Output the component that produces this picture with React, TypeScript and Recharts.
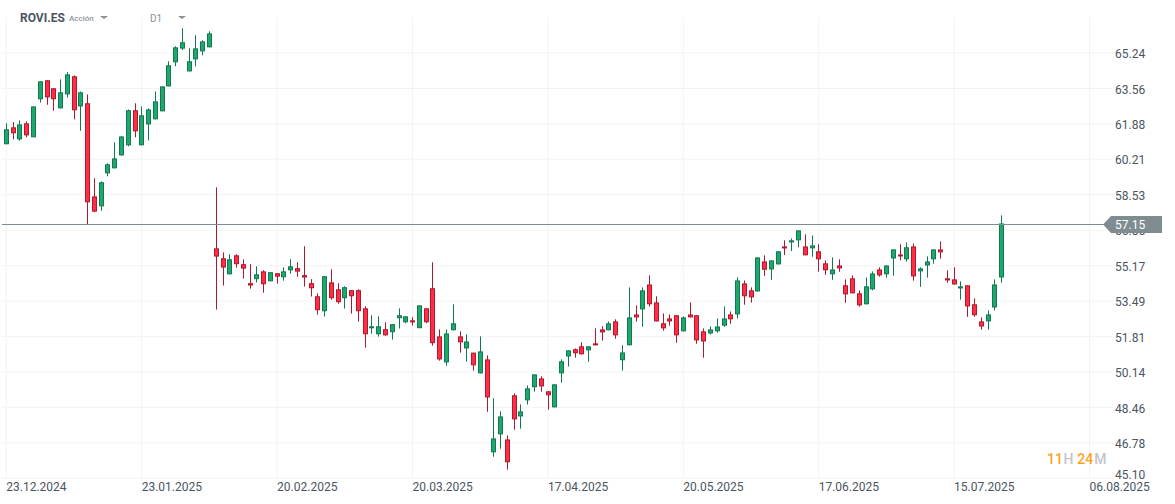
import { ComposedChart, Bar, XAxis, YAxis, CartesianGrid, ReferenceLine } from "recharts";

const opens = [
  60.92, 61.72, 61.15, 61.91, 61.25, 63.05, 63.95, 63.57, 62.62, 63.28, 64.14, 62.71, 62.86, 58.45, 57.98, 59.54, 59.78, 60.39, 60.87, 62.53,
  60.87, 61.86, 62.10, 62.48, 63.66, 64.80, 65.45, 64.37, 64.94, 65.32, 65.51, 55.99, 55.52, 54.76, 55.66, 55.24, 54.34, 54.53, 54.90, 54.43,
  54.81, 54.62, 54.95, 55.05, 54.72, 54.34, 53.72, 53.01, 54.38, 54.05, 53.63, 54.01, 54.01, 53.15, 52.21, 51.92, 52.16, 52.02, 52.68, 52.49,
  52.58, 52.21, 53.15, 54.10, 51.82, 50.59, 52.11, 51.82, 51.25, 51.05, 50.07, 50.73, 46.33, 47.18, 46.94, 49.03, 48.03, 48.79, 49.41, 49.83,
  49.22, 48.46, 50.07, 50.87, 51.21, 51.35, 51.16, 51.49, 52.15, 52.11, 52.53, 50.69, 51.40, 52.86, 53.10, 54.28, 53.43, 52.44, 52.67, 52.82,
  52.06, 52.86, 52.82, 52.06, 51.96, 52.06, 52.33, 52.86, 52.86, 54.33, 54.00, 53.95, 55.37, 54.99, 55.23, 56.08, 56.27, 56.37, 56.08, 55.99,
  55.85, 55.28, 54.76, 55.18, 54.24, 54.57, 53.86, 53.34, 54.05, 54.99, 54.76, 55.51, 55.70, 55.47, 56.08, 54.90, 55.18, 55.47, 55.94, 54.57,
  54.52, 54.09, 54.24, 53.34, 52.53, 52.53, 53.19, 54.61,
];
const highs = [
  61.91, 61.97, 62.05, 62.00, 62.71, 63.90, 63.95, 63.57, 63.99, 64.34, 64.18, 63.42, 63.28, 59.31, 59.16, 60.02, 61.01, 61.29, 62.57, 62.86,
  62.71, 62.62, 63.42, 63.66, 64.85, 65.56, 66.41, 65.46, 66.08, 65.84, 66.27, 58.88, 55.80, 55.71, 55.71, 55.47, 55.24, 55.14, 54.95, 54.86,
  54.81, 55.09, 55.47, 55.33, 56.09, 54.53, 53.86, 54.67, 55.00, 54.34, 54.19, 54.01, 54.05, 53.25, 52.82, 52.77, 52.49, 52.40, 53.15, 52.77,
  52.73, 53.29, 53.15, 55.33, 52.15, 52.15, 53.34, 52.06, 51.92, 51.05, 51.82, 50.92, 48.89, 48.27, 47.13, 49.12, 48.60, 49.50, 50.02, 49.93,
  49.22, 49.55, 50.73, 51.16, 51.25, 51.54, 51.35, 52.20, 52.30, 52.53, 52.63, 51.40, 54.14, 53.29, 54.14, 54.71, 53.72, 52.91, 52.86, 52.82,
  52.77, 53.43, 52.82, 52.20, 52.29, 52.67, 53.24, 53.00, 54.62, 54.47, 54.14, 55.56, 55.66, 55.42, 55.85, 56.37, 56.46, 56.84, 56.65, 56.60,
  56.18, 55.42, 55.56, 55.47, 54.52, 54.71, 54.00, 54.61, 54.90, 55.09, 55.18, 55.94, 56.18, 56.27, 56.22, 55.09, 55.61, 55.94, 56.32, 54.95,
  55.09, 54.43, 54.24, 53.62, 52.72, 53.05, 54.52, 57.55,
];
const lows = [
  60.92, 61.15, 61.09, 61.25, 61.25, 62.89, 62.79, 62.51, 62.62, 63.13, 62.10, 61.56, 57.14, 57.70, 57.77, 59.40, 59.78, 60.39, 60.82, 61.25,
  60.87, 61.10, 62.10, 62.48, 63.66, 64.61, 65.38, 64.37, 64.61, 65.13, 65.51, 53.09, 54.23, 54.76, 55.08, 54.56, 54.08, 54.37, 53.89, 54.43,
  54.32, 54.46, 54.79, 54.65, 54.18, 53.71, 52.85, 52.76, 53.56, 53.37, 53.14, 52.90, 52.52, 51.29, 51.95, 51.81, 51.85, 51.67, 52.19, 52.44,
  52.33, 52.21, 52.44, 51.38, 50.67, 50.43, 52.11, 51.05, 50.62, 50.20, 50.07, 48.25, 46.12, 46.50, 45.51, 47.40, 47.45, 48.59, 49.20, 49.20,
  48.35, 48.46, 49.63, 50.39, 50.81, 50.97, 50.62, 51.40, 51.62, 52.11, 51.71, 50.20, 51.40, 52.52, 52.28, 53.23, 52.53, 52.09, 52.33, 51.52,
  52.06, 52.72, 51.47, 50.81, 51.90, 51.99, 52.28, 52.42, 52.66, 53.32, 53.42, 53.95, 54.69, 54.50, 55.23, 55.67, 55.86, 56.04, 55.66, 55.59,
  54.88, 54.74, 54.50, 54.88, 53.41, 53.86, 53.23, 53.34, 54.00, 54.65, 54.60, 54.69, 55.42, 55.36, 54.46, 54.17, 54.60, 55.26, 55.50, 54.36,
  54.28, 53.56, 52.75, 52.75, 52.14, 52.14, 53.05, 54.36,
];
const closes = [
  61.63, 61.44, 61.86, 61.34, 62.71, 63.90, 63.14, 63.05, 63.38, 64.23, 62.53, 63.38, 58.17, 57.73, 59.12, 59.97, 60.25, 61.29, 62.53, 61.53,
  62.29, 62.57, 62.95, 63.66, 64.66, 65.51, 65.75, 64.85, 65.46, 65.79, 66.17, 55.60, 55.08, 55.47, 55.24, 55.03, 54.23, 54.76, 54.29, 54.86,
  54.65, 54.90, 55.14, 54.89, 54.61, 54.10, 53.06, 54.67, 53.63, 53.44, 54.15, 53.72, 53.01, 51.92, 52.30, 52.30, 51.87, 52.40, 52.82, 52.77,
  52.49, 53.29, 52.49, 51.50, 50.73, 51.96, 52.44, 51.54, 51.58, 50.45, 51.11, 48.93, 46.99, 48.03, 45.86, 47.89, 48.27, 49.36, 50.02, 49.45,
  49.03, 49.55, 50.64, 51.16, 51.02, 50.97, 51.35, 51.40, 52.01, 52.44, 51.87, 51.06, 52.72, 52.72, 54.00, 53.34, 52.53, 52.20, 52.53, 51.87,
  52.72, 52.72, 51.63, 51.58, 52.15, 52.29, 52.67, 52.63, 54.47, 53.72, 53.67, 55.56, 54.98, 55.42, 55.85, 55.99, 56.37, 56.84, 55.66, 56.13,
  55.47, 54.95, 54.99, 55.04, 53.81, 53.86, 53.29, 54.19, 54.80, 54.71, 55.18, 55.94, 55.61, 56.04, 54.66, 55.04, 55.37, 55.94, 55.80, 54.47,
  54.28, 54.19, 53.24, 52.82, 52.29, 52.86, 54.28, 57.17,
];

const priceTicks = [65.24, 63.56, 61.88, 60.21, 58.53, 56.85, 55.17, 53.49, 51.81, 50.14, 48.46, 46.78, 45.10];
const dateTicks = [0, 20, 40, 60, 80, 100, 120, 140, 160];
const dateLabels = ["23.12.2024", "23.01.2025", "20.02.2025", "20.03.2025", "17.04.2025", "20.05.2025", "17.06.2025", "15.07.2025", "06.08.2025"];
const lastPrice = 57.15;
const hiddenTick = 56.85; // sits behind the price tag, only its lower edge shows

const data = opens.map((open, i) => ({
  idx: i,
  open,
  close: closes[i],
  range: [lows[i], highs[i]],
}));

const UP = { fill: "#20a86c", stroke: "#0f7a52" };
const DOWN = { fill: "#ff2d45", stroke: "#b0182e" };

function Candle(props: any) {
  const { x, y, width, height, payload } = props;
  const [low, high] = payload.range;
  const cx = Math.floor(x + width / 2) + 0.5;
  const toY = (v: number) => y + ((high - v) / (high - low)) * height;
  const top = toY(Math.max(payload.open, payload.close));
  const bottom = toY(Math.min(payload.open, payload.close));
  const c = payload.close >= payload.open ? UP : DOWN;
  return (
    <g>
      <line x1={cx} x2={cx} y1={y} y2={y + height} stroke={c.stroke} strokeWidth={1} />
      <rect x={cx - 2} y={top + 0.5} width={4} height={Math.max(bottom - top - 1, 1)} fill={c.fill} stroke={c.stroke} strokeWidth={1} />
    </g>
  );
}

function PriceTick({ x, y, payload }: any) {
  const shift = payload.value === 45.1 ? -4 : 1;
  const hidden = payload.value === hiddenTick;
  return (
    <g>
      {hidden && (
        <clipPath id="under-tag">
          <rect x={x} y={y + 2.8} width={50} height={12} />
        </clipPath>
      )}
      <text
        x={x}
        y={y + shift}
        dy="0.35em"
        textAnchor="start"
        fontSize={12}
        fill="#4a5560"
        fontFamily="Roboto"
        clipPath={hidden ? "url(#under-tag)" : undefined}
      >
        {payload.value.toFixed(2)}
      </text>
    </g>
  );
}

function DateTick({ x, payload }: any) {
  return (
    <text x={x} y={487} dy="0.35em" textAnchor="start" fontSize={12} fill="#4a5560" fontFamily="Roboto">
      {dateLabels[dateTicks.indexOf(payload.value)]}
    </text>
  );
}

function PriceLine({ x1, x2, y1 }: any) {
  const y = Math.round(y1) + 0.5;
  return <line x1={x1} x2={x2} y1={y} y2={y} stroke="#7f8c92" strokeWidth={1} />;
}

function PriceTag({ viewBox }: any) {
  const y = Math.round(viewBox.y) + 0.5;
  const right = viewBox.x + viewBox.width;
  return (
    <g>
      <polygon
        points={`${right - 10},${y} ${right - 2},${y - 8.5} ${right + 49},${y - 8.5} ${right + 49},${y + 8.5} ${right - 2},${y + 8.5}`}
        fill="#7f8c92"
      />
      <text x={right + 2} y={y + 0.5} dy="0.35em" textAnchor="start" fontSize={12} fill="#ffffff" fontFamily="Roboto">
        {lastPrice.toFixed(2)}
      </text>
    </g>
  );
}

const arrow = (left: number) => (
  <div
    style={{
      position: "absolute",
      left,
      top: 16,
      width: 0,
      height: 0,
      borderLeft: "4.5px solid transparent",
      borderRight: "4.5px solid transparent",
      borderTop: "3px solid #8a8f94",
    }}
  />
);

const abs = (left: number, top: number, fontSize: number, color: string, weight = 400) => ({
  position: "absolute" as const,
  left,
  top,
  fontSize,
  lineHeight: "14px",
  color,
  fontWeight: weight,
  fontFamily: "Roboto",
  whiteSpace: "nowrap" as const,
});

const GRAY = "#c2c6ca";

export default function App() {
  return (
    <div style={{ position: "relative", width: 1175, height: 504, background: "#fff", overflow: "hidden" }}>
      <style>{"body{margin:0}"}</style>
      <ComposedChart width={1175} height={504} data={data} margin={{ top: 17.56, right: 0, bottom: 0, left: 2 }}>
        <CartesianGrid stroke="#f3f3f3" strokeWidth={1} syncWithTicks />
        <XAxis
          dataKey="idx"
          type="number"
          domain={[-0.635, 163.47]}
          ticks={dateTicks}
          interval={0}
          height={25.7}
          axisLine={false}
          tickLine={false}
          tick={DateTick}
          allowDataOverflow
        />
        <YAxis
          orientation="right"
          type="number"
          width={62}
          domain={[45.1, 66.92]}
          ticks={priceTicks}
          interval={0}
          axisLine={false}
          tickLine={false}
          tickMargin={2}
          tickSize={0}
          tick={PriceTick}
          allowDataOverflow
        />
        <Bar dataKey="range" barSize={5} shape={Candle} isAnimationActive={false} />
        <ReferenceLine y={lastPrice} shape={PriceLine} label={PriceTag} />
      </ComposedChart>
      <div style={abs(20, 11, 12, "#4a5560", 700)}>ROVI.ES</div>
      <div style={abs(69, 12, 8, "#8f9499", 500)}>Acción</div>
      {arrow(100)}
      <div style={abs(150, 12, 10, "#8a8f94")}>D1</div>
      {arrow(178)}
      <div style={abs(1047, 452, 14, "#ff9f1c", 500)}>
        11
        <span style={{ color: GRAY, marginLeft: 0.5 }}>H</span>
        <span style={{ marginLeft: 4 }}>24</span>
        <span style={{ color: GRAY, marginLeft: 1 }}>M</span>
      </div>
    </div>
  );
}
